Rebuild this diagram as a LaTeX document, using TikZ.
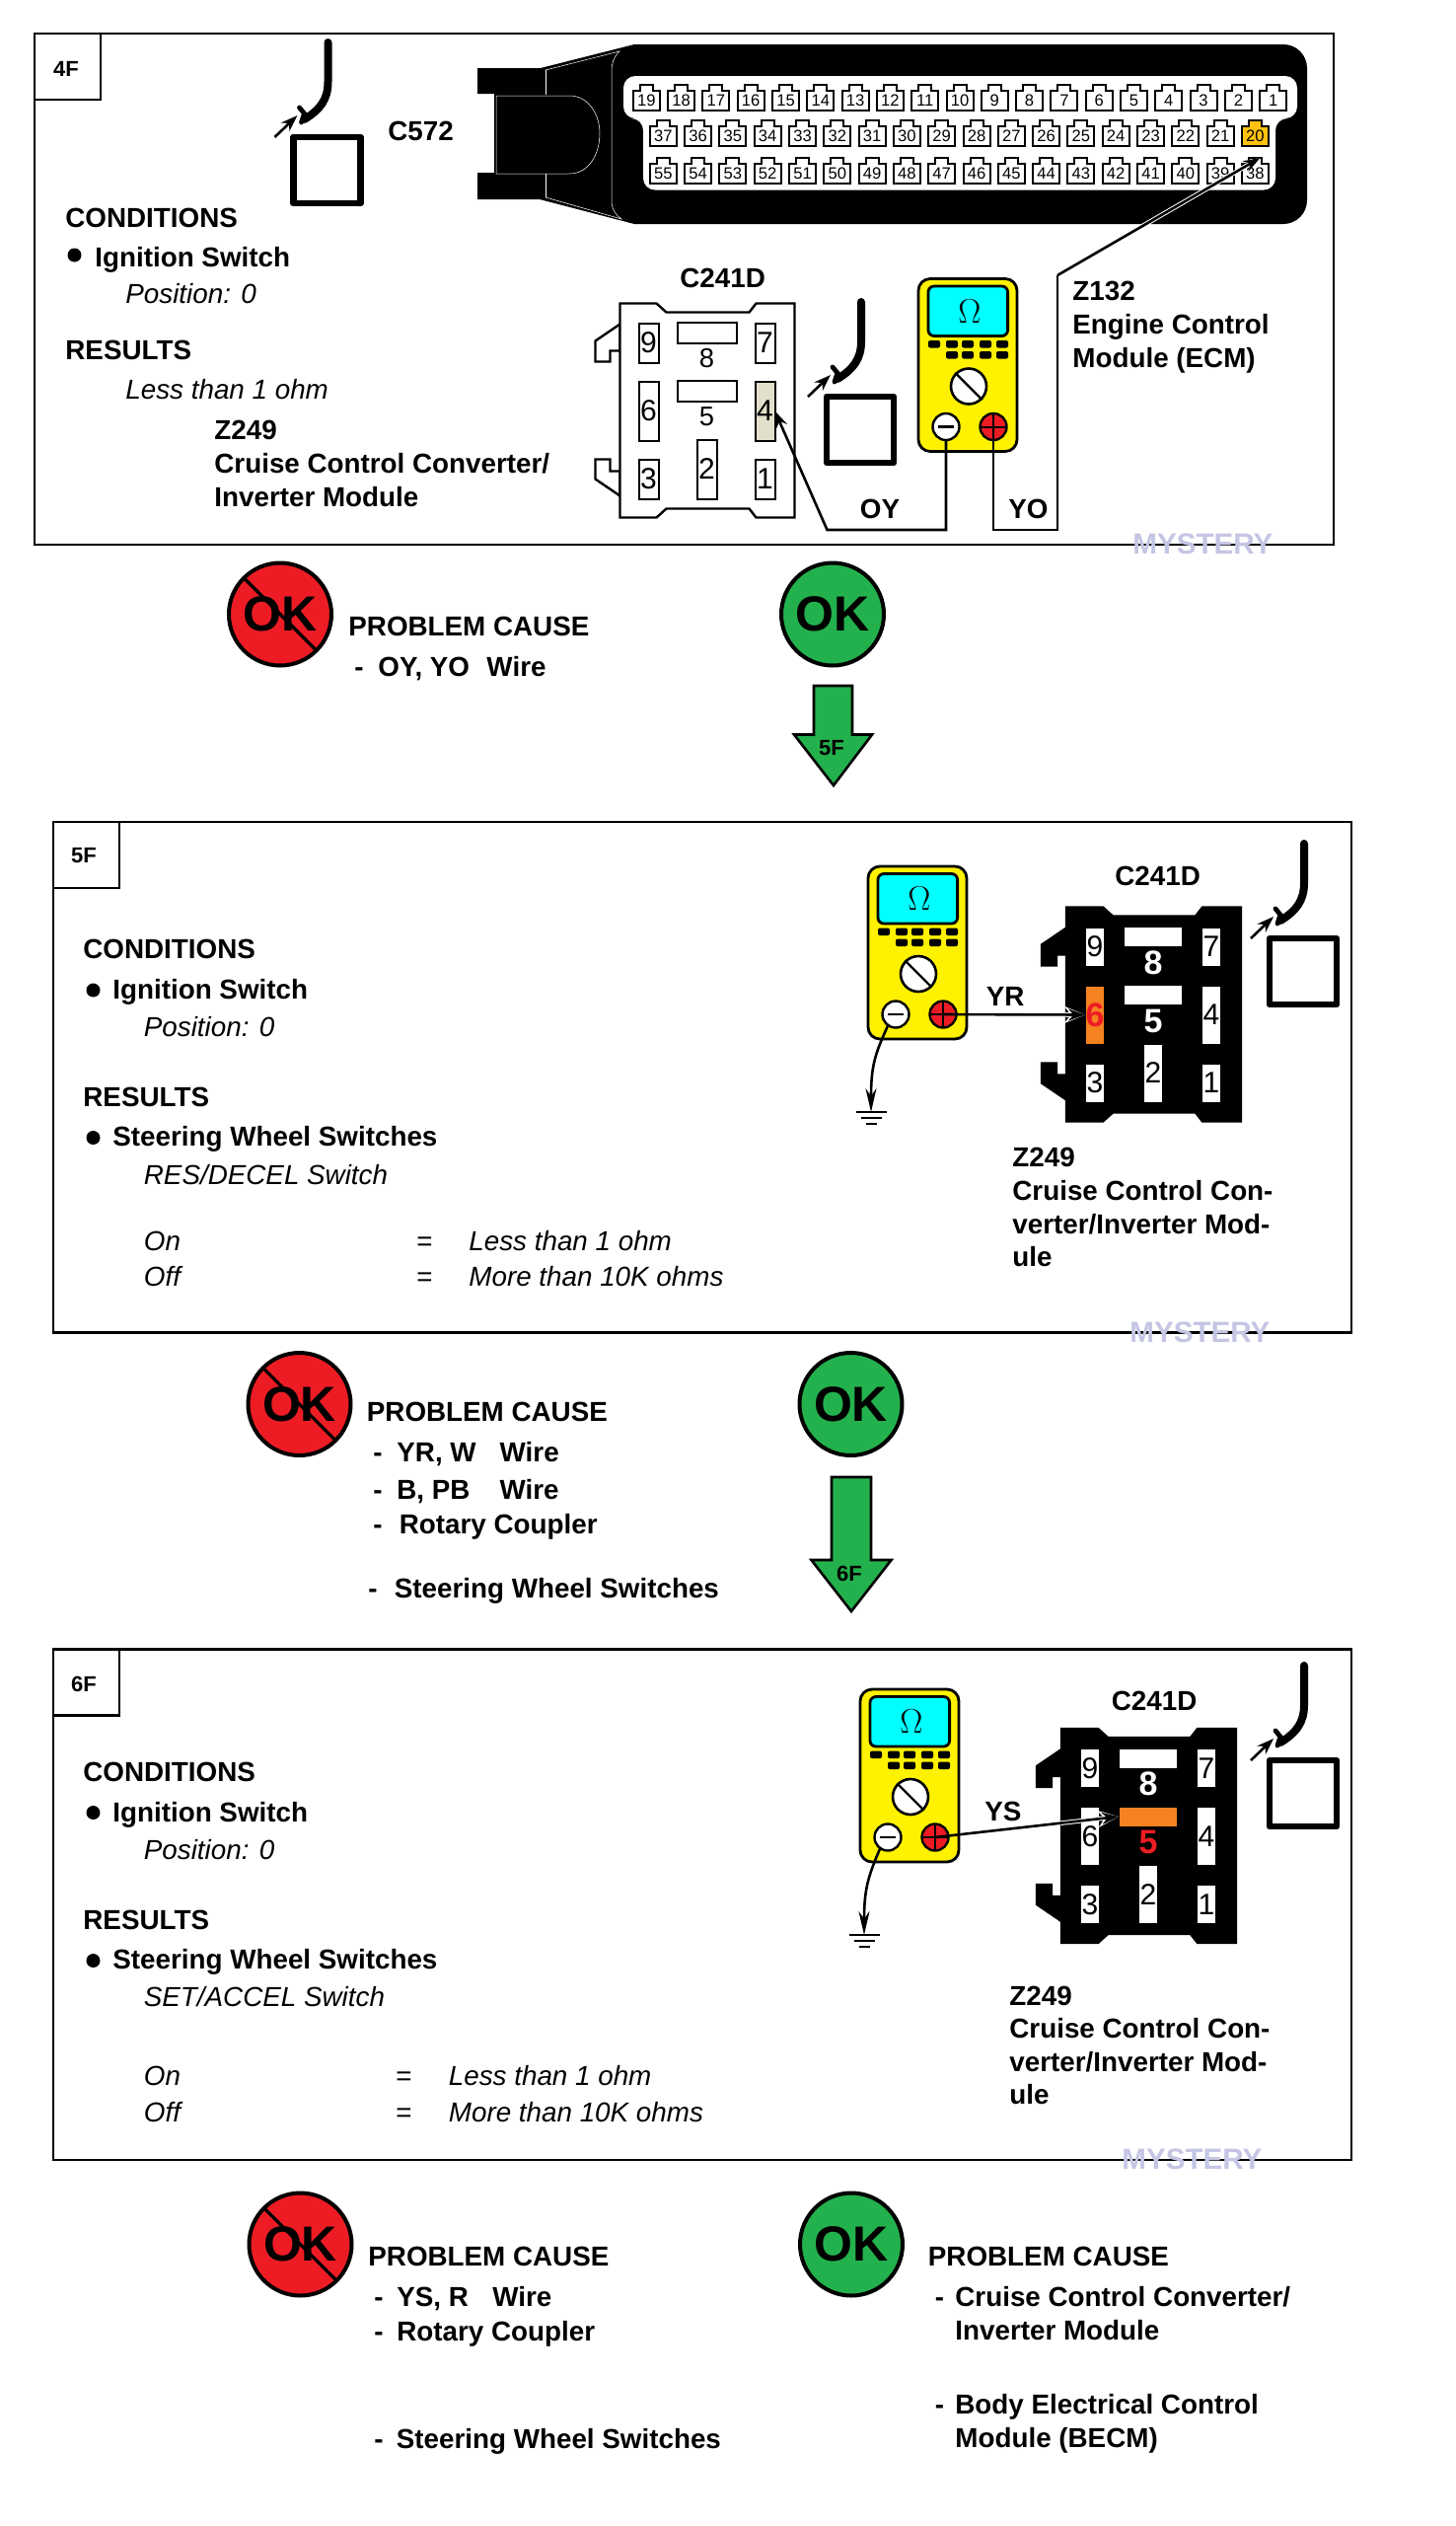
\documentclass[tikz,border=0pt]{standalone}
\usepackage{fontspec}
\setmainfont{Liberation Sans}
\usetikzlibrary{arrows.meta}
\definecolor{okred}{RGB}{237,28,36}
\definecolor{okgreen}{RGB}{35,177,77}
\definecolor{meteryellow}{RGB}{255,242,0}
\definecolor{screencyan}{RGB}{0,255,255}
\definecolor{markcolor}{RGB}{197,197,228}
\definecolor{pinorange}{RGB}{245,130,32}
\definecolor{ecmyellow}{RGB}{255,194,14}
\definecolor{pinbeige}{RGB}{226,223,203}
\tikzset{
  head/.style={anchor=base west,inner sep=0pt,xshift=-.5pt,font=\fontsize{13.9}{16}\selectfont\bfseries},
  note/.style={anchor=base west,inner sep=0pt,xshift=-.5pt,font=\fontsize{13.9}{16}\selectfont\itshape},
  frame/.style={draw=black,line width=1.4pt},
  tagtext/.style={inner sep=0pt,font=\fontsize{11}{13}\selectfont\bfseries},
  dotmark/.style={circle,fill=black,inner sep=0pt,minimum size=7pt},
  okbad/.style={circle,draw=black,fill=okred,line width=2pt,inner sep=0pt,outer sep=0pt,minimum size=52pt,font=\fontsize{25}{28}\selectfont\bfseries},
  okgood/.style={okbad,fill=okgreen},
  flowarrow/.style={draw=black,fill=okgreen,line width=1.3pt,line join=miter},
  mystery/.style={anchor=base west,inner sep=0pt,text=markcolor,font=\fontsize{14.8}{16}\selectfont\bfseries},
  wire/.style={draw=black,line width=1.3pt},
  tipped/.style={-{Stealth[length=8.5pt,width=6pt]}},
  tippedlong/.style={-{Stealth[length=12pt,width=5.5pt]}},
  halo/.style={preaction={draw=white,line width=2.3pt,shorten <=#1,-{Stealth[length=10.5pt,width=8.5pt]}}},
  relaybody/.style={draw=black,fill=white,line width=1.2pt},
  relaypin/.style={draw=black,fill=white,line width=1pt,inner sep=0pt,outer sep=0pt,minimum width=10pt,font=\fontsize{15}{17}\selectfont},
  pinfour/.style={},
  pinsix/.style={},
  barfive/.style={},
  labfive/.style={text=black},
  labeight/.style={text=black},
  relaylab/.style={inner sep=0pt,font=\fontsize{13.7}{16}\selectfont},
  pinfill/.style={fill=white},
  pics/probe/.style={code={
    \draw[line width=4pt,line cap=round] (0,0) -- (0,40) .. controls (0,58) and (-8,68) .. (-24,78);
    \draw[line width=2.4pt,line cap=round] (-29,66) -- (-24,72) -- (-27,81);
    \draw[line width=1.3pt,tipped] (-54,96) -- (-31,74);
    \draw[line width=3.4pt,line join=round] (-35,96) rectangle (33,163);
  }},
  pics/meter/.style={code={
    \draw[fill=meteryellow,line width=1.4pt,rounded corners=6pt] (0,0) rectangle (100,175);
    \draw[fill=screencyan,line width=1.4pt,rounded corners=3pt] (10,7.5) rectangle (90.6,58);
    \node (-ohm) at (52,33) [inner sep=0pt,font=\fontsize{17}{19}\selectfont] {$\Omega$};
    \foreach \bx in {16,34,50,68,85}
      \fill[rounded corners=1pt] (\bx-6,62.5) rectangle (\bx+6,70);
    \foreach \bx in {34,50,68,85}
      \fill[rounded corners=1pt] (\bx-6,73.5) rectangle (\bx+6,81);
    \node (-dial) at (51,109) [circle,draw=black,fill=white,line width=1.3pt,inner sep=0pt,minimum size=18pt] {};
    \draw[line width=1.2pt] (-dial.135) -- (-dial.-45);
    \node (-neg) at (28,150) [circle,draw=black,fill=white,line width=1.2pt,inner sep=0pt,outer sep=0pt,minimum size=13.5pt] {};
    \draw[line width=1.4pt] (20,150) -- (36,150);
    \node (-pos) at (76,150) [circle,draw=black,fill=okred,line width=1.2pt,inner sep=0pt,outer sep=0pt,minimum size=13.5pt] {};
    \draw[line width=1pt] (-pos.west) -- (-pos.east);
    \draw[line width=1pt] (-pos.north) -- (-pos.south);
  }},
  pics/relay/.style={code={
    \path[relaybody] (0,21) -- (-25,38) -- (-25,59) -- (-10,59) -- (-10,48) -- (0,48) -- cycle;
    \path[relaybody] (0,170) -- (-10,170) -- (-10,158) -- (-25,158) -- (-25,178) -- (0,195) -- cycle;
    \path[relaybody] (0,0) -- (37,0) -- (47,9) -- (131,9) -- (138,0) -- (177,0) -- (177,217)
      -- (138,217) -- (131,208) -- (47,208) -- (37,217) -- (0,217) -- cycle;
    \node (-p9) at (29,40) [relaypin,minimum height=20pt] {9};
    \node (-p7) at (147,40) [relaypin,minimum height=20pt] {7};
    \node (-p6) at (29,109) [relaypin,minimum height=30pt,pinsix] {6};
    \node (-p4) at (147,109) [relaypin,minimum height=30pt,pinfour] {4};
    \node (-p3) at (29,178) [relaypin,minimum height=20pt] {3};
    \node (-p2) at (88,168) [relaypin,minimum height=30pt] {2};
    \node (-p1) at (147,178) [relaypin,minimum height=20pt] {1};
    \node (-p8) at (88,30) [relaypin,minimum width=30pt,minimum height=10.5pt] {};
    \node (-p5) at (88,89) [relaypin,minimum width=30pt,minimum height=10.5pt,barfive] {};
    \node (-l8) at (88,56) [relaylab,labeight] {8};
    \node (-l5) at (88,115) [relaylab,labfive] {5};
  }},
  pics/ecmpin/.style={code={
    \draw[pinfill,draw=black,line width=1pt] (-13.5,5.5) -- (-6.5,5.5) -- (-6.5,0) -- (6.5,0) -- (6.5,5.5)
      -- (13.5,5.5) -- (13.5,25.5) -- (-13.5,25.5) -- cycle;
    \node (-lab) at (0,15.5) [inner sep=0pt,outer sep=0pt,minimum height=20pt,font=\fontsize{8.3}{10}\selectfont] {#1};
  }},
  pics/earth/.style={code={
    \draw[line width=1.2pt] (-15.5,0) -- (15.5,0);
    \draw[line width=1.2pt] (-10.5,6) -- (10.5,6);
    \draw[line width=1.2pt] (-5.5,12) -- (5.5,12);
  }},
  blackrelay/.style={
    relaybody/.style={draw=black,fill=black,line width=1.2pt},
    labeight/.style={text=white,font=\fontsize{17}{19}\selectfont\bfseries},
    labfive/.style={text=white,font=\fontsize{17}{19}\selectfont\bfseries}
  }
}
\begin{document}
\begin{tikzpicture}[x=0.5pt,y=-0.5pt]
  \useasboundingbox (0,0) rectangle (1476,2560);

  % panel 4F
  \draw[frame] (35,34) rectangle (1352,552);
  \draw[frame] (35,34) rectangle (102,101);
  \node (tag4) at (67,70) [tagtext] {4F};
  \pic (probeA) at (332.5,43) {probe};
  \node (c572) at (394,142.5) [head] {C572};
  \node (cond4) at (67,230) [head] {CONDITIONS};
  \node (dot4) at (75.5,258.5) [dotmark] {};
  \node (ign4) at (97,270) [head] {Ignition Switch};
  \node (pos4) at (128,307) [note] {Position: 0};
  \node (res4) at (67,364) [head] {RESULTS};
  \node (less4) at (128,404) [note] {Less than 1 ohm};
  \node (z4a) at (218,445) [head] {Z249};
  \node (z4b) at (218,479) [head] {Cruise Control Converter/};
  \node (z4c) at (218,513) [head] {Inverter Module};

  % ECM connector
  \fill[black] (484,69) -- (548,69) -- (643,45) [rounded corners=12pt] -- (1325,45) -- (1325,227)
    [sharp corners] -- (643,227) -- (547,202) -- (484,202) -- (484,175) -- (501,175) -- (501,95) -- (484,95) -- cycle;
  \draw[white,line width=.25pt] (503,97) -- (577,97) .. controls (598,97) and (608,118) .. (608,135)
    .. controls (608,155) and (598,176) .. (577,176) -- (503,176) -- cycle;
  \draw[white,line width=.25pt] (553,71) -- (553,96) (553,176) -- (553,200);
  \draw[white,line width=.25pt] (553,71) -- (628,52) .. controls (622,58) and (620,64) .. (620,72) -- (620,203)
    .. controls (620,212) and (624,218) .. (630,222) -- (553,200);
  \fill[white,rounded corners=6pt] (632,77) -- (1315,77) -- (1315,120) -- (1293,120) -- (1293,192.5) -- (652,192.5) -- (652,120) -- (632,120) -- cycle;
  \foreach \n in {1,...,19} {
    \pgfmathsetmacro{\xx}{1290.7-35.3*(\n-1)}
    \pic (p\n) at (\xx,86) {ecmpin=\n};
  }
  \foreach \n in {21,...,37} {
    \pgfmathsetmacro{\xx}{672.3+35.3*(37-\n)}
    \pic (p\n) at (\xx,122) {ecmpin=\n};
  }
  \foreach \n in {38,...,55} {
    \pgfmathsetmacro{\xx}{672.3+35.3*(55-\n)}
    \pic (p\n) at (\xx,160) {ecmpin=\n};
  }
  \begin{scope}[pinfill/.style={fill=ecmyellow}]
    \pic (p20) at (1272.4,122) {ecmpin=20};
  \end{scope}

  \node (c241a) at (690,291) [head] {C241D};
  \pic (relayA) at (628.5,307.5) [pinfour/.style={fill=pinbeige}] {relay};
  \pic (probeB) at (873,306) {probe};
  \pic (meterA) at (931,282.5) {meter};
  \node (oy) at (872.5,525) [head] {OY};
  \node (yo) at (1023,525) [head] {YO};
  \node (z132a) at (1088,304) [head] {Z132};
  \node (z132b) at (1088,338) [head] {Engine Control};
  \node (z132c) at (1088,372) [head] {Module (ECM)};
  \coordinate (oyA) at (959,537);
  \coordinate (oyB) at (838.5,537);
  \coordinate (yoA) at (1007,537);
  \coordinate (yoB) at (1072,537);
  \coordinate (yoC) at (1072,279);
  \draw[wire,tipped] (meterA-neg.south) -- (oyA) -- (oyB) -- (relayA-p4.east);
  \draw[wire] (meterA-pos.south) -- (yoA) -- (yoB) -- (yoC);
  \draw[wire,tipped,preaction={draw=white,line width=2.3pt}] (yoC) -- ([xshift=2.5pt,yshift=-1.25pt]p20-lab.south);
  \node (mark4) at (1148,561) [mystery] {MYSTERY};

  % results of 4F
  \node (bad4) at (284,622.5) [okbad] {OK};
  \draw[line width=1.6pt] (bad4.135) -- (bad4.-45);
  \node (good4) at (844,622.5) [okgood] {OK};
  \node (cause4) at (354,644.5) [head] {PROBLEM CAUSE};
  \node (dash4) at (360,685.5) [head] {-};
  \node (item4) at (384,685.5) [head] {OY, YO\hspace{8.7pt}Wire};
  \draw[flowarrow] (825,695) -- (864,695) -- (864,744.5) -- (884,744.5) -- (845,796) -- (805,744.5) -- (825,744.5) -- cycle;
  \node (to5) at (843,758.5) [tagtext] {5F};

  % panel 5F
  \draw[frame] (54,833) rectangle (1370,1350.5);
  \draw[frame] (54,833) rectangle (121,900);
  \node (tag5) at (85,867) [tagtext] {5F};
  \node (cond5) at (85,971.5) [head] {CONDITIONS};
  \node (dot5a) at (94.5,1003.5) [dotmark] {};
  \node (ign5) at (115,1012.5) [head] {Ignition Switch};
  \node (pos5) at (146.5,1050) [note] {Position: 0};
  \node (res5) at (85,1121) [head] {RESULTS};
  \node (dot5b) at (94.5,1153) [dotmark] {};
  \node (swi5) at (115,1161.5) [head] {Steering Wheel Switches};
  \node (res5b) at (146.5,1200) [note] {RES/DECEL Switch};
  \node (on5) at (146.5,1267) [note] {On};
  \node (onq5) at (423,1267) [note,font=\fontsize{13.9}{16}\selectfont] {=};
  \node (onv5) at (476,1267) [note] {Less than 1 ohm};
  \node (off5) at (146.5,1303.5) [note] {Off};
  \node (offq5) at (423,1303.5) [note,font=\fontsize{13.9}{16}\selectfont] {=};
  \node (offv5) at (476,1303.5) [note] {More than 10K ohms};
  \pic (meterB) at (880,878) {meter};
  \node (c241b) at (1131,897) [head] {C241D};
  \begin{scope}[blackrelay,pinsix/.style={fill=pinorange,text=okred,font=\fontsize{17}{19}\selectfont\bfseries}]
    \pic (relayB) at (1081,919.5) {relay};
  \end{scope}
  \pic (probeC) at (1322,855) {probe};
  \node (yr) at (1000.5,1019) [head] {YR};
  \draw[wire,tipped,halo=62pt] (meterB-pos.center) -- (relayB-p6.west);
  \coordinate (gndB) at (883,1127);
  \draw[wire,tippedlong] (meterB-neg.235) .. controls (887,1068) and (883,1080) .. (gndB);
  \pic (earthB) at (gndB) {earth};
  \node (z5a) at (1027,1182.5) [head] {Z249};
  \node (z5b) at (1027,1216.5) [head] {Cruise Control Con-};
  \node (z5c) at (1027,1250.5) [head] {verter/Inverter Mod-};
  \node (z5d) at (1027,1283.5) [head] {ule};
  \node (mark5) at (1145,1360) [mystery] {MYSTERY};

  % results of 5F
  \node (bad5) at (303.5,1423) [okbad] {OK};
  \draw[line width=1.6pt] (bad5.135) -- (bad5.-45);
  \node (good5) at (862.5,1423) [okgood] {OK};
  \node (cause5) at (372.5,1440.5) [head] {PROBLEM CAUSE};
  \node (dash5a) at (379,1481.5) [head] {-};
  \node (item5a) at (403,1481.5) [head] {YR, W\hspace{12pt}Wire};
  \node (dash5b) at (379,1519) [head] {-};
  \node (item5b) at (403,1519) [head] {B, PB\hspace{15pt}Wire};
  \node (dash5c) at (379,1554) [head] {-};
  \node (item5c) at (405.5,1554) [head] {Rotary Coupler};
  \node (dash5d) at (374,1619) [head] {-};
  \node (item5d) at (400.5,1619) [head] {Steering Wheel Switches};
  \draw[flowarrow] (843,1497) -- (883,1497) -- (883,1581) -- (903.5,1581) -- (863,1633) -- (822.5,1581) -- (843,1581) -- cycle;
  \node (to6) at (861,1595) [tagtext] {6F};

  % panel 6F
  \draw[frame] (54,1671.5) rectangle (1370,2189);
  \draw[frame] (54,1671.5) rectangle (121,1738.5);
  \node (tag6) at (85,1707) [tagtext] {6F};
  \node (cond6) at (85,1805.5) [head] {CONDITIONS};
  \node (dot6a) at (94.5,1837) [dotmark] {};
  \node (ign6) at (115,1846) [head] {Ignition Switch};
  \node (pos6) at (146.5,1884) [note] {Position: 0};
  \node (res6) at (85,1955) [head] {RESULTS};
  \node (dot6b) at (94.5,1987) [dotmark] {};
  \node (swi6) at (115,1995.5) [head] {Steering Wheel Switches};
  \node (set6) at (146.5,2033.5) [note] {SET/ACCEL Switch};
  \node (on6) at (146.5,2113.5) [note] {On};
  \node (onq6) at (402,2113.5) [note,font=\fontsize{13.9}{16}\selectfont] {=};
  \node (onv6) at (455.5,2113.5) [note] {Less than 1 ohm};
  \node (off6) at (146.5,2150) [note] {Off};
  \node (offq6) at (402,2150) [note,font=\fontsize{13.9}{16}\selectfont] {=};
  \node (offv6) at (455.5,2150) [note] {More than 10K ohms};
  \pic (meterC) at (872,1712) {meter};
  \node (c241c) at (1127.5,1733) [head] {C241D};
  \begin{scope}[blackrelay,barfive/.style={fill=pinorange},
      labfive/.style={text=okred,font=\fontsize{17}{19}\selectfont\bfseries}]
    \pic (relayC) at (1076,1752) {relay};
  \end{scope}
  \pic (probeD) at (1322,1688) {probe};
  \node (ys) at (999,1845) [head] {YS};
  \draw[wire,tipped,halo=64pt] (meterC-pos.center) -- (relayC-p5.west);
  \coordinate (gndC) at (876,1961);
  \draw[wire,tippedlong] (meterC-neg.235) .. controls (880,1902) and (876,1914) .. (gndC);
  \pic (earthC) at (gndC) {earth};
  \node (z6a) at (1024,2032) [head] {Z249};
  \node (z6b) at (1024,2065.5) [head] {Cruise Control Con-};
  \node (z6c) at (1024,2099) [head] {verter/Inverter Mod-};
  \node (z6d) at (1024,2132.5) [head] {ule};
  \node (mark6) at (1137,2198) [mystery] {MYSTERY};

  % results of 6F
  \node (bad6) at (304.5,2274.5) [okbad] {OK};
  \draw[line width=1.6pt] (bad6.135) -- (bad6.-45);
  \node (good6) at (863,2274.5) [okgood] {OK};
  \node (cause6a) at (374,2296) [head] {PROBLEM CAUSE};
  \node (dash6a) at (380,2337) [head] {-};
  \node (item6a) at (403,2337) [head] {YS, R\hspace{12.2pt}Wire};
  \node (dash6b) at (380,2372) [head] {-};
  \node (item6b) at (403,2372) [head] {Rotary Coupler};
  \node (dash6c) at (380,2481) [head] {-};
  \node (item6c) at (402.5,2481) [head] {Steering Wheel Switches};
  \node (cause6b) at (941.5,2296) [head] {PROBLEM CAUSE};
  \node (dash6d) at (948.5,2337) [head] {-};
  \node (item6d) at (969,2337) [head] {Cruise Control Converter/};
  \node (item6e) at (969,2371) [head] {Inverter Module};
  \node (dash6e) at (948.5,2446.5) [head] {-};
  \node (item6f) at (969,2446.5) [head] {Body Electrical Control};
  \node (item6g) at (969,2480.5) [head] {Module (BECM)};
\end{tikzpicture}
\end{document}
